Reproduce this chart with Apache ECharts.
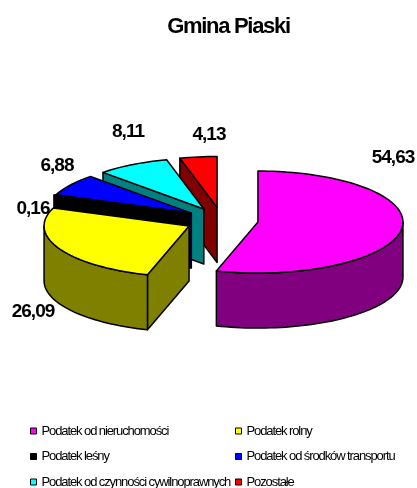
<!DOCTYPE html>
<html><head><meta charset="utf-8">
<style>html,body{margin:0;padding:0;background:#fff}#c{width:417px;height:488px}</style>
<script src="https://cdn.jsdelivr.net/npm/echarts@6/dist/echarts.min.js"></script>
</head><body><div id="c"></div>
<script>
const categories = ['Podatek od nieruchomości','Podatek rolny','Podatek leśny','Podatek od środków transportu','Podatek od czynności cywilnoprawnych','Pozostałe'];
const values = [54.63,26.09,0.16,6.88,8.11,4.13];
const topColors = ['#ff00ff','#ffff00','#000000','#0000ff','#00ffff','#ff0000'];
const wallColors = ['#800080','#808000','#000000','#000080','#008080','#800000'];
const labelCenters = [[393,158],[33,312],[33,209],[57,166],[128,132],[209,135]];
const sliceNudge = [[0,0],[0,0],[2,-2.5],[0,0],[0,0],[0,0]];
const leftLegend = [0,2,4];
const rightLegend = [1,3,5];

// tight tracking of the reference's text, by font size
const tracking = {13:-1.1,19:-1,22:-1.3};
const nativeFill = CanvasRenderingContext2D.prototype.fillText;
CanvasRenderingContext2D.prototype.fillText = function(){
  const m = /(\d+(?:\.\d+)?)px/.exec(this.font);
  this.letterSpacing = ((m && tracking[+m[1]]) || 0)+'px';
  const r = nativeFill.apply(this,arguments);
  this.letterSpacing = '0px';
  return r;
};

const CX=221.8, CY=220.2, RX=145, RY=51, DEPTH=55, EXPLODE=0.252;
const total = values.reduce((a,b)=>a+b,0);
const chart = echarts.init(document.getElementById('c'),null,{renderer:'canvas'});
const rad = d=>d*Math.PI/180;
function arc(cx,cy,a0,a1,dy){
  const pts=[], n=Math.max(2,Math.ceil((a1-a0)/2));
  for(let i=0;i<=n;i++){const a=rad(a0+(a1-a0)*i/n);
    pts.push([cx+RX*Math.sin(a), cy-RY*Math.cos(a)+dy]);}
  return pts;
}
function poly(points,fill,z2){
  return {type:'polygon',z2,shape:{points},style:{fill,stroke:'#000',lineWidth:1.5,lineJoin:'round'}};
}
function renderSlice(idx){
  return function(params,api){
    const v=api.value(0);
    let before=0; for(let i=0;i<idx;i++) before+=values[i];
    const a0=before/total*360, a1=a0+v/total*360, mid=rad((a0+a1)/2);
    const cx=CX+EXPLODE*RX*Math.sin(mid)+sliceNudge[idx][0], cy=CY-EXPLODE*RY*Math.cos(mid)+sliceNudge[idx][1];
    const base=(6-idx)*10, children=[];
    const wall=a=>{const p=arc(cx,cy,a,a,0)[0];
      return [[cx,cy],p,[p[0],p[1]+DEPTH],[cx,cy+DEPTH]];};
    if(Math.sin(rad(a0))<-1e-6) children.push(poly(wall(a0),wallColors[idx],base));
    if(Math.sin(rad(a1))>1e-6) children.push(poly(wall(a1),wallColors[idx],base));
    const r0=Math.max(a0,90), r1=Math.min(a1,270);
    if(r1>r0){
      const up=arc(cx,cy,r0,r1,0), down=arc(cx,cy,r0,r1,DEPTH).reverse();
      children.push(poly(up.concat(down),wallColors[idx],base+1));
    }
    children.push(poly([[cx,cy]].concat(arc(cx,cy,a0,a1,0)),topColors[idx],base+2));
    children.push({type:'text',z2:200,style:{
      text:v.toFixed(2).replace('.',','),x:labelCenters[idx][0],y:labelCenters[idx][1],
      align:'center',verticalAlign:'middle',fill:'#000',
      font:'bold 19px "Liberation Sans", Arial, sans-serif'}});
    return {type:'group',children};
  };
}
const legendBase={orient:'vertical',top:419,height:80,itemWidth:6,itemHeight:6,itemGap:11.5,selectedMode:false,
  icon:'rect',itemStyle:{borderColor:'#000',borderWidth:1},
  textStyle:{fontFamily:'"Liberation Sans",Arial',fontSize:13,lineHeight:14,color:'#000'}};
chart.setOption({
  animation:false,
  backgroundColor:'#fff',
  title:{text:'Gmina Piaski',left:223.5,top:11,textAlign:'center',
    textStyle:{fontFamily:'"Liberation Sans",Arial',fontWeight:'bold',fontSize:22,color:'#000'}},
  legend:[
    Object.assign({},legendBase,{left:25,data:leftLegend.map(i=>categories[i])}),
    Object.assign({},legendBase,{left:230,data:rightLegend.map(i=>categories[i])})
  ],
  series:categories.map((name,i)=>({
    type:'custom',name,coordinateSystem:'none',silent:true,
    itemStyle:{color:topColors[i]},
    renderItem:renderSlice(i),
    data:[[values[i]]]
  }))
});
</script></body></html>
